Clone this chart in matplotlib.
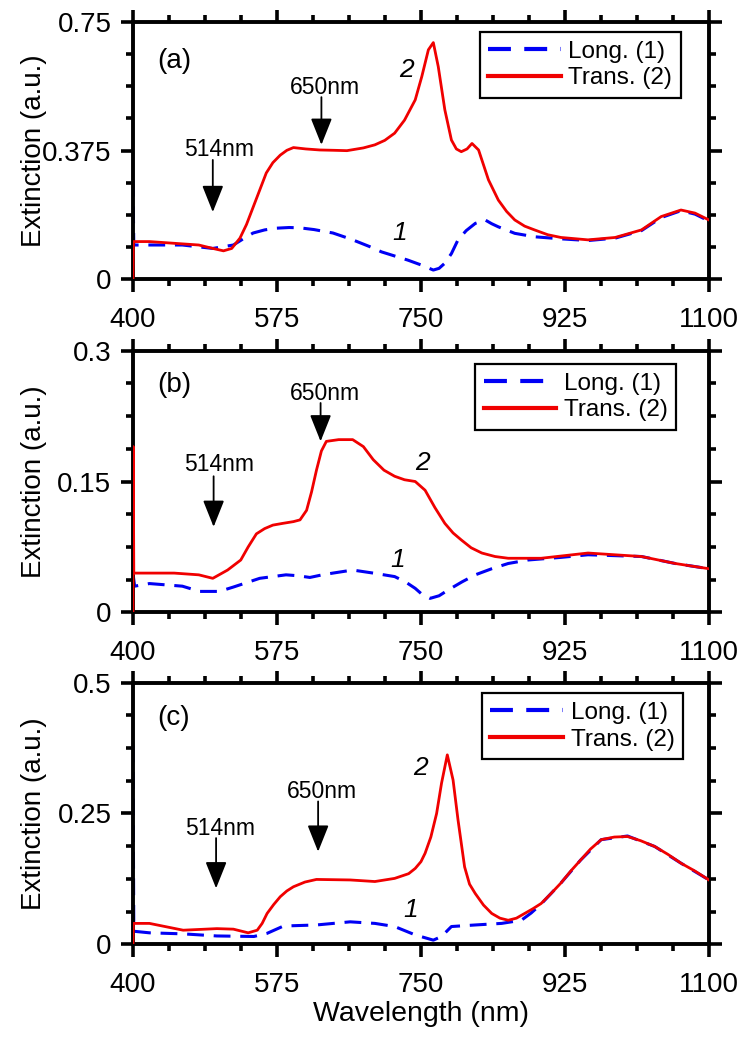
import matplotlib
matplotlib.use("Agg")
import matplotlib.pyplot as plt
from matplotlib.ticker import AutoMinorLocator, FixedLocator

plt.rcParams['font.family'] = ['Liberation Sans', 'DejaVu Sans']

# ---------------- data ----------------
x_ticks = [400, 575, 750, 925, 1100]

# Panel (a)
wl_a_long = [400, 401, 420, 460, 497, 522, 534, 546, 560, 574, 590, 603, 620, 643, 665, 688,
             702, 718, 734, 750, 765, 772, 779, 787, 795, 805, 816, 828, 836, 844, 864, 888,
             920, 953, 986, 1018, 1042, 1066, 1083, 1100]
ext_a_long = [0.29, 0.10, 0.10, 0.10, 0.09, 0.10, 0.118, 0.135, 0.144, 0.149, 0.151, 0.150,
              0.145, 0.135, 0.117, 0.095, 0.08, 0.068, 0.056, 0.042, 0.027, 0.032, 0.047,
              0.075, 0.115, 0.142, 0.163, 0.173, 0.162, 0.153, 0.134, 0.124, 0.118, 0.113,
              0.12, 0.142, 0.18, 0.2, 0.19, 0.17]
wl_a_trans = [400, 400.5, 420, 450, 480, 497, 510, 520, 530, 538, 546, 554, 562, 570, 579,
              587, 595, 610, 627, 645, 660, 680, 694, 706, 718, 730, 743, 751, 759, 765,
              771, 779, 787, 793, 799, 806, 812, 820, 832, 844, 854, 864, 876, 888, 904,
              920, 953, 986, 1018, 1042, 1066, 1083, 1100]
ext_a_trans = [0.0, 0.11, 0.11, 0.105, 0.10, 0.09, 0.083, 0.09, 0.12, 0.16, 0.21, 0.26,
               0.31, 0.34, 0.362, 0.376, 0.384, 0.38, 0.377, 0.376, 0.375, 0.383, 0.392,
               0.405, 0.426, 0.464, 0.523, 0.591, 0.669, 0.69, 0.62, 0.494, 0.406, 0.38,
               0.372, 0.38, 0.396, 0.377, 0.29, 0.231, 0.198, 0.173, 0.155, 0.144, 0.13,
               0.122, 0.115, 0.122, 0.144, 0.183, 0.202, 0.193, 0.173]

# Panel (b)
wl_b_long = [400, 402, 420, 460, 481, 505, 522, 538, 554, 570, 586, 600, 615, 630, 643, 667,
             692, 718, 731, 743, 752, 761, 772, 783, 800, 816, 836, 856, 880, 920, 953, 1018,
             1059, 1100]
ext_b_long = [0.045, 0.03, 0.033, 0.03, 0.024, 0.024, 0.029, 0.034, 0.039, 0.041, 0.043,
              0.042, 0.040, 0.043, 0.045, 0.0485, 0.045, 0.041, 0.035, 0.0275, 0.02, 0.016,
              0.019, 0.0256, 0.035, 0.043, 0.05, 0.056, 0.06, 0.063, 0.066, 0.064, 0.056,
              0.05]
wl_b_trans = [400, 400.3, 401, 420, 450, 480, 497, 515, 531, 540, 550, 560, 570, 582, 595,
              603, 611, 617, 623, 629, 635, 650, 667, 680, 692, 705, 718, 730, 743, 755, 767,
              779, 789, 799, 811, 824, 840, 856, 896, 953, 1018, 1059, 1100]
ext_b_trans = [0.0, 0.19, 0.045, 0.045, 0.045, 0.043, 0.039, 0.0485, 0.06, 0.075, 0.09,
               0.096, 0.10, 0.102, 0.104, 0.106, 0.117, 0.138, 0.163, 0.185, 0.196, 0.198,
               0.198, 0.19, 0.175, 0.163, 0.156, 0.152, 0.150, 0.14, 0.12, 0.102, 0.091,
               0.083, 0.074, 0.068, 0.064, 0.062, 0.062, 0.068, 0.064, 0.056, 0.05]

# Panel (c)
wl_c_long = [400, 401, 420, 461, 502, 547, 563, 583, 623, 664, 694, 718, 743, 765, 775,
             787, 816, 848, 872, 884, 896, 908, 920, 944, 969, 1001, 1034, 1066, 1100]
ext_c_long = [0.38, 0.025, 0.022, 0.02, 0.016, 0.015, 0.021, 0.035, 0.037, 0.043, 0.040,
              0.034, 0.018, 0.008, 0.015, 0.034, 0.037, 0.040, 0.046, 0.06, 0.077, 0.097,
              0.117, 0.161, 0.20, 0.207, 0.187, 0.155, 0.123]
wl_c_trans = [400, 400.5, 420, 461, 502, 522, 540, 551, 557, 563, 571, 579, 587, 595, 609,
              623, 664, 694, 718, 735, 743, 750, 755, 762, 769, 775, 782, 789, 795, 803, 809,
              816, 826, 836, 846, 856, 866, 876, 886, 896, 908, 920, 932, 944, 956, 969, 985,
              1001, 1017, 1034, 1050, 1066, 1083, 1100]
ext_c_trans = [0.0, 0.04, 0.04, 0.027, 0.03, 0.029, 0.022, 0.027, 0.04, 0.059, 0.076,
               0.091, 0.102, 0.11, 0.119, 0.124, 0.123, 0.12, 0.126, 0.135, 0.145, 0.158,
               0.174, 0.205, 0.25, 0.308, 0.362, 0.314, 0.238, 0.148, 0.115, 0.097, 0.075,
               0.059, 0.05, 0.046, 0.05, 0.059, 0.068, 0.078, 0.097, 0.117, 0.14, 0.161,
               0.182, 0.20, 0.205, 0.206, 0.198, 0.187, 0.172, 0.155, 0.14, 0.123]

panel_labels = ['(a)', '(b)', '(c)']
y_limits = [0.75, 0.3, 0.5]
y_ticks = [[0, 0.375, 0.75], [0, 0.15, 0.3], [0, 0.25, 0.5]]
y_ticklabels = [['0', '0.375', '0.75'], ['0', '0.15', '0.3'], ['0', '0.25', '0.5']]
legend_labels = ['Long. (1)', 'Trans. (2)']
arrow_labels = ['514nm', '650nm']

# annotation placement (data coords): (text x, text y, arrow x, tail y, tip y)
arrow_514 = [(505, 0.377, 497, 0.348, 0.196), (505, 0.169, 498, 0.156, 0.098),
             (506, 0.222, 501, 0.203, 0.107)]
arrow_650 = [(633, 0.560, 629, 0.531, 0.392), (633, 0.251, 628, 0.240, 0.196),
             (630, 0.292, 625, 0.273, 0.177)]
num2_pos = [(732, 0.61), (752, 0.171), (749, 0.336)]
num1_pos = [(724, 0.134), (722, 0.06), (737, 0.066)]
legend_anchor = [(0.951, 0.961), (0.943, 0.949), (0.955, 0.960)]
panel_label_y = [0.848, 0.869, 0.865]

data = [
    (wl_a_long, ext_a_long, wl_a_trans, ext_a_trans),
    (wl_b_long, ext_b_long, wl_b_trans, ext_b_trans),
    (wl_c_long, ext_c_long, wl_c_trans, ext_c_trans),
]

# ---------------- figure ----------------
fig = plt.figure(figsize=(7.5, 10.43), dpi=100)
positions = [[0.1773, 0.7322, 0.768, 0.2467],
             [0.1773, 0.4129, 0.768, 0.2509],
             [0.1773, 0.0946, 0.768, 0.2509]]

BLUE = '#0000f5'
RED = '#f00000'
FS_TICK = 20
FS_LAB = 20
FS_ANN = 16.5

for i, pos in enumerate(positions):
    ax = fig.add_axes(pos)
    wl_l, ex_l, wl_t, ex_t = data[i]
    ax.plot(wl_l, ex_l, color=BLUE, lw=2.2, dashes=(5.5, 3.2), label=legend_labels[0], zorder=2)
    ax.plot(wl_t, ex_t, color=RED, lw=2.0, label=legend_labels[1], zorder=3)

    ax.set_xlim(400, 1100)
    ax.set_ylim(0, y_limits[i])
    ax.xaxis.set_major_locator(FixedLocator(x_ticks))
    ax.set_xticklabels([str(t) for t in x_ticks])
    ax.yaxis.set_major_locator(FixedLocator(y_ticks[i]))
    ax.set_yticklabels(y_ticklabels[i])
    ax.xaxis.set_minor_locator(AutoMinorLocator(4))
    ax.yaxis.set_minor_locator(AutoMinorLocator(4))
    ax.tick_params(which='both', direction='out', top=True, right=True,
                   labeltop=False, labelright=False, width=2.6, labelsize=FS_TICK)
    ax.tick_params(which='major', length=9)
    ax.tick_params(which='minor', length=5)
    ax.tick_params(axis='x', which='major', pad=11)
    ax.tick_params(axis='y', which='major', pad=6.5)
    for sp in ax.spines.values():
        sp.set_linewidth(2.8)

    ax.set_ylabel('Extinction (a.u.)', fontsize=FS_LAB)
    ax.yaxis.set_label_coords(-0.15, 0.5)

    ax.text(0.042, panel_label_y[i], panel_labels[i], transform=ax.transAxes,
            fontsize=20, ha='left', va='center')

    for (tx, ty, axx, taily, tipy), lab in ((arrow_514[i], arrow_labels[0]),
                                             (arrow_650[i], arrow_labels[1])):
        ax.text(tx, ty, lab, fontsize=FS_ANN, ha='center', va='center')
        ax.annotate('', xy=(axx, tipy), xytext=(axx, taily),
                    arrowprops=dict(arrowstyle='-|>,head_length=1.0,head_width=0.4',
                                    color='black', lw=1.3, shrinkA=0, shrinkB=0,
                                    mutation_scale=FS_ANN))

    ax.text(num2_pos[i][0], num2_pos[i][1], '2', fontsize=19, style='italic',
            ha='center', va='center')
    ax.text(num1_pos[i][0], num1_pos[i][1], '1', fontsize=19, style='italic',
            ha='center', va='center')

    leg = ax.legend(loc='upper right', bbox_to_anchor=legend_anchor[i], borderaxespad=0,
                    fontsize=17.5, frameon=True, fancybox=False, framealpha=1,
                    edgecolor='black', handlelength=3.0, handletextpad=0.3,
                    labelspacing=0.2, borderpad=0.35)
    leg.get_frame().set_linewidth(1.6)
    for h in leg.get_lines():
        h.set_linewidth(3.0)

    if i == 2:
        ax.set_xlabel('Wavelength (nm)', fontsize=20.5, labelpad=2)

fig.savefig('out.png', dpi=100)
